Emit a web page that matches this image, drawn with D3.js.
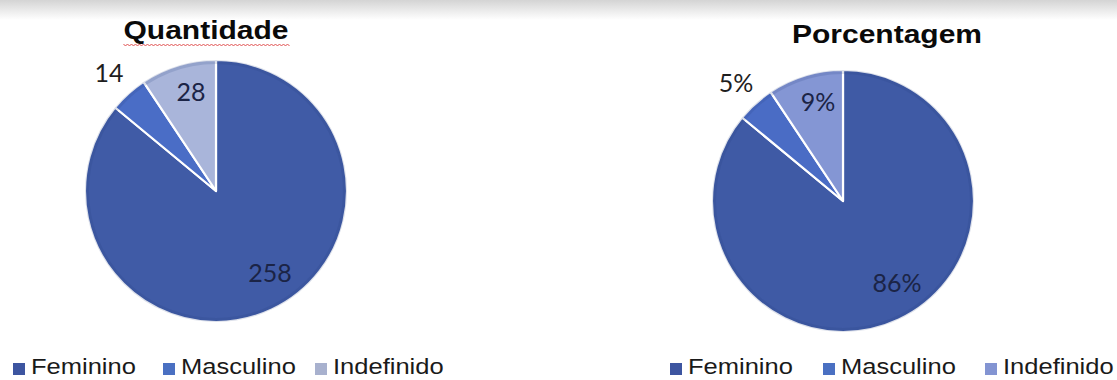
<!DOCTYPE html>
<html>
<head>
<meta charset="utf-8">
<script src="https://cdn.jsdelivr.net/npm/d3@7"></script>
<style>
html,body{margin:0;padding:0;background:#fff;}
svg{display:block;}
</style>
</head>
<body>
<svg id="chart" width="1117" height="380"></svg>
<script>
const categories = ["Feminino", "Masculino", "Indefinido"];
const counts = [258, 14, 28];
const percentLabels = ["86%", "5%", "9%"];
const chartTitles = ["Quantidade", "Porcentagem"];

const svg = d3.select("#chart");
const W = 1117, H = 380;

const defs = svg.append("defs");
const sh = defs.append("linearGradient").attr("id","topShadow").attr("x1",0).attr("y1",0).attr("x2",0).attr("y2",1);
sh.append("stop").attr("offset","0%").attr("stop-color","#d4d4d4");
sh.append("stop").attr("offset","55%").attr("stop-color","#ececec");
sh.append("stop").attr("offset","100%").attr("stop-color","#ffffff");
svg.append("rect").attr("x",0).attr("y",0).attr("width",W).attr("height",20).attr("fill","url(#topShadow)");

const charts = [
  {title: chartTitles[0], labels: counts.map(String), cx: 216, cy: 191, r: 131,
   titleX: 206, titleY: 39, spell: true,
   colors: ["#405BA6", "#4A6DC6", "#A9B5DA"], legendColors: ["#3D55A0", "#4A70C2", "#A8B1CE"],
   legendX: [13, 163, 315]},
  {title: chartTitles[1], labels: percentLabels, cx: 843, cy: 201, r: 131,
   titleX: 887, titleY: 43, spell: false,
   colors: ["#3F5AA5", "#4A6CC5", "#8496D4"], legendColors: ["#3D55A0", "#4A70C2", "#8394D2"],
   legendX: [670, 823, 985]}
];

const pie = d3.pie().sort(null).value(d => d);
// label placement: fraction of radius and angular nudge (radians) from slice mid-angle
const labelRadiusFactor = [0.74, 1.22, 0.79];
const labelAngleShift = [-0.15, 0, 0.05];

charts.forEach((c, ci) => {
  const arcs = pie(counts);
  const arc = d3.arc().innerRadius(0).outerRadius(c.r);

  const ga = svg.append("g").attr("transform", `translate(${c.cx},${c.cy})`);
  ga.selectAll("path").data(arcs).enter().append("path")
    .attr("d", d => arc(d))
    .attr("fill", (d,i) => c.colors[i])
    .attr("stroke", "#ffffff").attr("stroke-width", 2.2).attr("stroke-linejoin","round");

  // soft darker rim
  ga.append("circle").attr("r", c.r - 2)
    .attr("fill","none").attr("stroke","#27407f").attr("stroke-opacity",0.16).attr("stroke-width",4);

  arcs.forEach((d, i) => {
    const lr = c.r * labelRadiusFactor[i];
    const a = d3.arc().innerRadius(lr).outerRadius(lr);
    const sd = {startAngle: d.startAngle + labelAngleShift[i], endAngle: d.endAngle + labelAngleShift[i]};
    const [x, y] = a.centroid(sd);
    ga.append("text")
      .attr("x", x).attr("y", y)
      .attr("text-anchor","middle").attr("dominant-baseline","central")
      .attr("font-family","Lato, 'Open Sans', sans-serif").attr("font-size", 25)
      .attr("fill", i === 1 ? "#1e1e1e" : "#1b2446")
      .text(c.labels[i]);
  });

  // title (stretched horizontally like the source image)
  const t = svg.append("text")
    .attr("transform", `translate(${c.titleX},${c.titleY}) scale(1.2,1)`)
    .attr("text-anchor","middle")
    .attr("font-family","'Liberation Sans', Arial, sans-serif").attr("font-weight","bold")
    .attr("font-size", 25).attr("fill","#0a0a0a")
    .text(c.title);
  if (c.spell) {
    const bb = t.node().getBBox();
    const w = bb.width * 1.2;
    const x0 = c.titleX - w/2, y0 = c.titleY + 5;
    let dstr = `M${x0},${y0}`;
    for (let x = x0, k = 0; x < x0 + w; x += 2, k++) {
      dstr += ` L${x+2},${y0 + (k % 2 === 0 ? 2 : 0)}`;
    }
    svg.append("path").attr("d", dstr).attr("fill","none").attr("stroke","#e05050").attr("stroke-width",1);
  }

  // legend
  categories.forEach((cat, i) => {
    const lx = c.legendX[i];
    svg.append("rect").attr("x", lx).attr("y", 363).attr("width", 12).attr("height", 12)
      .attr("fill", c.legendColors[i]);
    svg.append("text")
      .attr("transform", `translate(${lx + 18},${374}) scale(1.16,1)`)
      .attr("font-family","'Liberation Sans', Arial, sans-serif").attr("font-size", 22)
      .attr("fill","#1a1a1a")
      .text(cat);
  });
});
</script>
</body>
</html>
